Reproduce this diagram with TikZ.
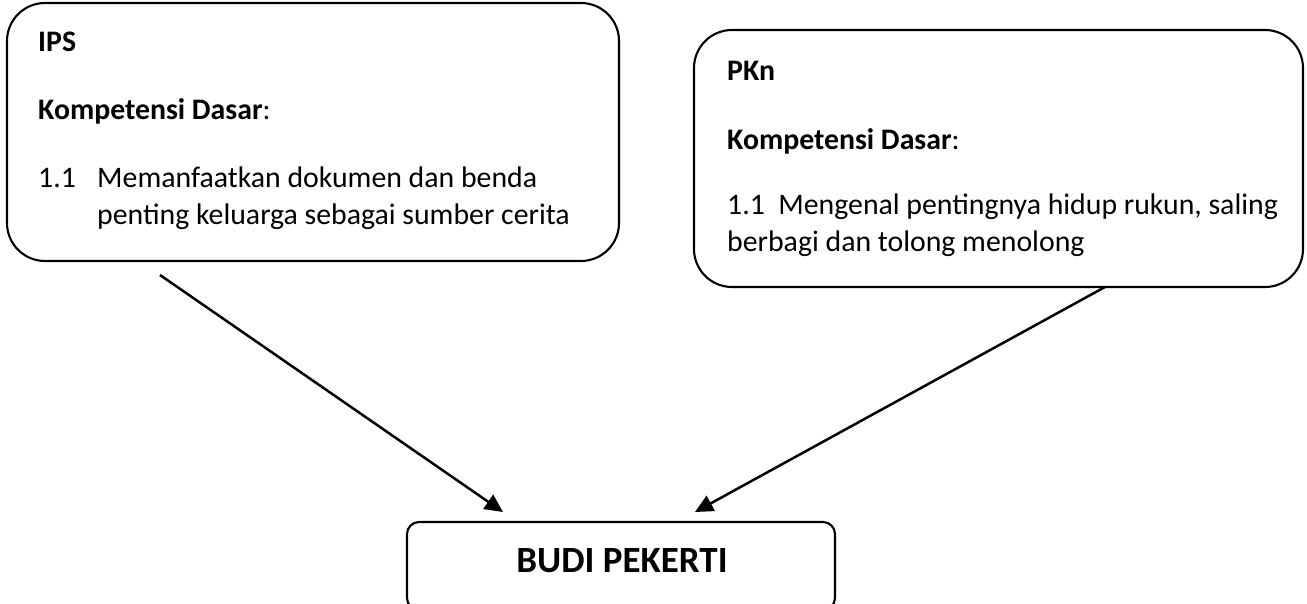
\documentclass[tikz,border=0pt]{standalone}
\usepackage{fontspec}
\setmainfont{Carlito}
\usetikzlibrary{arrows.meta}
\begin{document}
\begin{tikzpicture}[x=1pt,y=-1pt,
  bigbox/.style={draw=black,line width=2.1pt,rounded corners=38pt,inner sep=0pt,fill=none},
  smallbox/.style={draw=black,line width=2.1pt,rounded corners=12pt,inner sep=0pt},
  txt/.style={anchor=base west,inner sep=0pt,font=\fontsize{29.8}{36}\selectfont},
  conn/.style={line width=2.5pt,-{Triangle[length=18pt,width=17pt]}}]
\useasboundingbox (0,0) rectangle (1307,604);
\clip (0,0) rectangle (1307,604);
% boxes
\node[bigbox,minimum width=612pt,minimum height=258pt] (ips) at (313,132) {};
\node[bigbox,minimum width=609pt,minimum height=257pt] (pkn) at (998.5,158.5) {};
\node[smallbox,minimum width=428pt,minimum height=88pt] (budi) at (621,566) {};
% IPS texts
\node[txt] (t1) at (38,52) {\textbf{IPS}};
\node[txt] (t2) at (38,120) {\textbf{Kompetensi Dasar}:};
\node[txt] (t3) at (38,188) {1.1};
\node[txt] (t4) at (97,188) {Memanfaatkan dokumen dan benda};
\node[txt] (t5) at (97,225) {penting keluarga sebagai sumber cerita};
% PKn texts
\node[txt] (p1) at (727,81) {\textbf{PKn}};
\node[txt] (p2) at (727,150) {\textbf{Kompetensi Dasar}:};
\node[txt] (p3) at (727,215) {1.1\ \ Mengenal pentingnya hidup rukun, saling};
\node[txt] (p4) at (727,252) {berbagi dan tolong menolong};
% bottom text
\node[anchor=base,inner sep=0pt,font=\fontsize{37}{44}\selectfont\bfseries] (b1) at (622,572) {BUDI PEKERTI};
% connectors
\coordinate (s1) at (160,275);
\coordinate (e1) at (503,512);
\coordinate (s2) at (1105,287);
\coordinate (e2) at (695,512);
\draw[conn] (s1) -- (e1);
\draw[conn] (s2) -- (e2);
\end{tikzpicture}
\end{document}
